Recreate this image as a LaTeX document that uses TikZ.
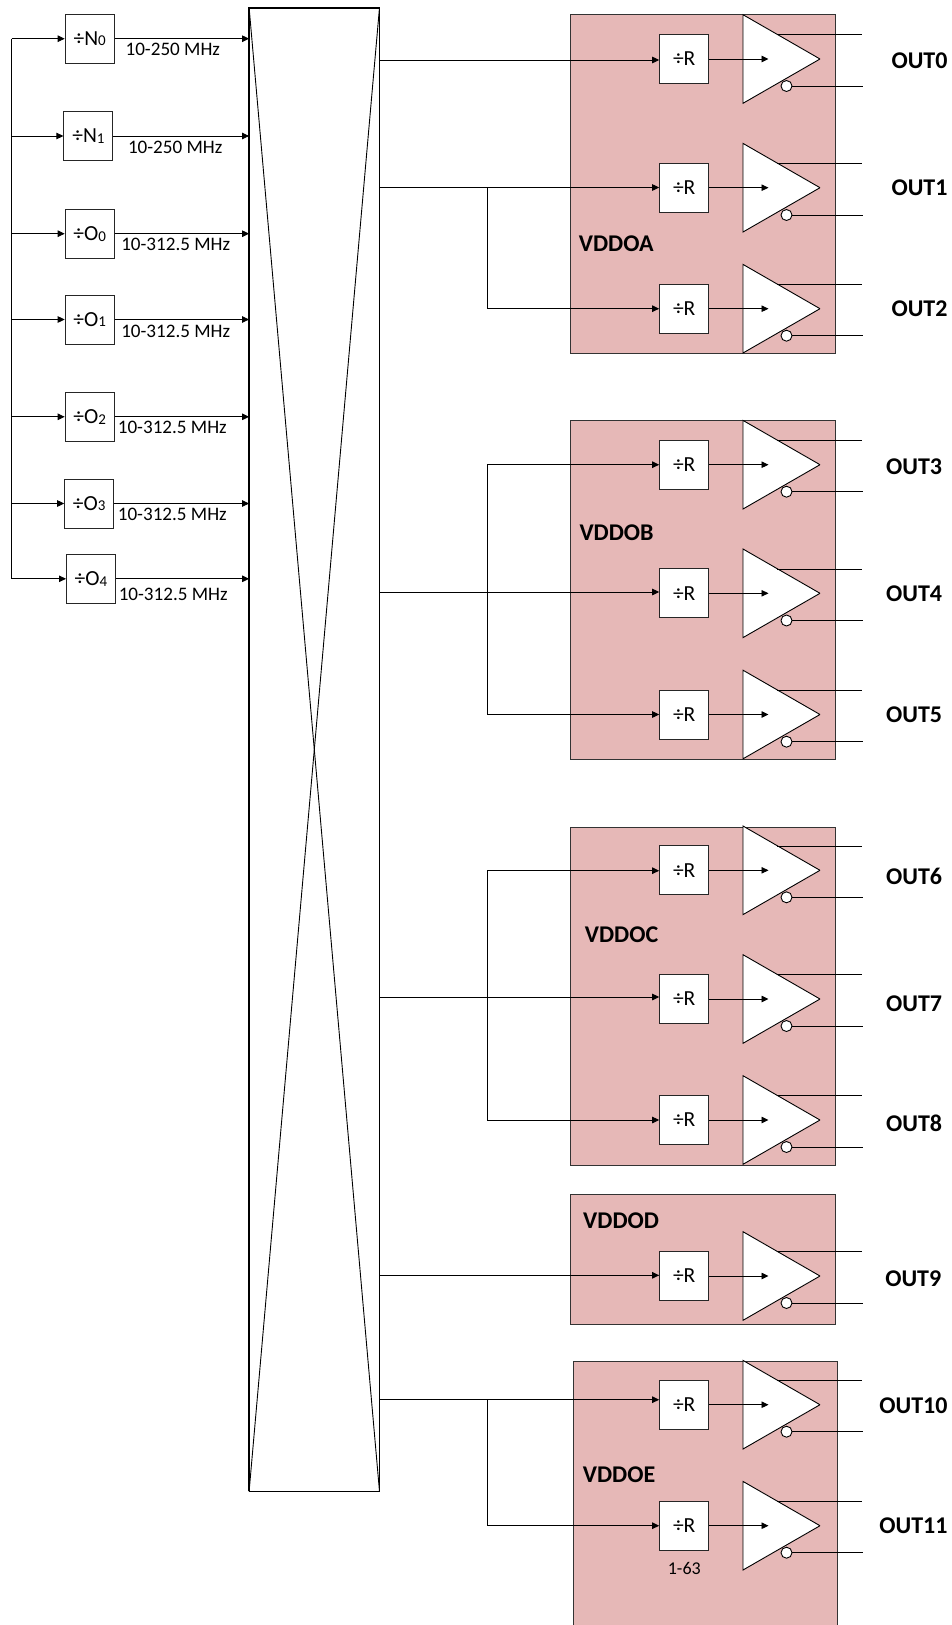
\documentclass[tikz,border=0pt]{standalone}
\usepackage{fontspec}
\setmainfont{Carlito}
\usetikzlibrary{arrows.meta,calc}
\definecolor{blockpink}{HTML}{E6B8B7}
\tikzset{
  wire/.style={draw=black,line width=0.9pt},
  arr/.style={-{Triangle[length=7pt,width=6.5pt]}},
  block/.style={draw=black!80,line width=1pt,fill=blockpink},
  tri/.style={draw=black,line width=0.9pt,fill=white,miter limit=2},
  divbox/.style={draw=black!85,line width=1pt,fill=white,minimum width=49pt,minimum height=49pt,inner sep=0pt},
  bubble/.style={circle,draw=black,line width=0.9pt,fill=white,minimum size=11pt,inner sep=0pt},
  boxtext/.style={font=\fontsize{21.5}{22}\selectfont},
  freq/.style={inner sep=0pt,font=\fontsize{19.1}{20}\selectfont},
  outlab/.style={inner sep=0pt,font=\fontsize{24}{26}\selectfont\bfseries},
  rail/.style={anchor=west,inner sep=0pt,font=\fontsize{24}{26}\selectfont\bfseries},
}
% id, cy, upper y, lower y, label cx, label cy, text
\newcommand{\outstage}[7]{%
  \node[divbox,boxtext] (R#1) at (684.2,#2) {\raisebox{-1pt}{÷R}};
  \coordinate (Ttop#1) at (743,#2-44.3);
  \coordinate (Tbot#1) at (743,#2+44.3);
  \coordinate (Ttip#1) at (820,#2);
  \draw[tri] (Ttop#1) -- (Ttip#1) -- (Tbot#1) -- cycle;
  \coordinate (Tin#1) at (768.5,#2);
  \draw[wire,arr] (R#1.east) -- (Tin#1);
  \coordinate (Ua#1) at (777,#3);
  \coordinate (Ub#1) at (862.3,#3);
  \draw[wire] (Ua#1) -- (Ub#1);
  \node[bubble] (B#1) at (786.5,#4) {};
  \coordinate (Lb#1) at (863,#4);
  \draw[wire] (B#1.east) -- (Lb#1);
  \node[outlab] (L#1) at (#5+0.8,#6) {#7};
}
% id, cx, cy, letter, sub, label cx, label cy, label
\newcommand{\inbox}[8]{%
  \node[divbox,boxtext] (D#1) at (#2,#3) {\raisebox{-1pt}{÷#4{\fontsize{15}{15}\selectfont\raisebox{-0.8pt}{#5}}}};
  \draw[wire,arr] (bus |- D#1.west) -- (D#1.west);
  \draw[wire,arr] (D#1.east) -- (mux.west |- D#1.east);
  \node[freq] (F#1) at (#6-0.5,#7) {#8};
}
\begin{document}
\begin{tikzpicture}[x=1pt,y=-1pt]
\useasboundingbox (0,0) rectangle (951,1625);
% crosspoint
\node[draw=black,line width=0.9pt,minimum width=129.5pt,minimum height=1483pt,inner sep=0pt] (mux) at (314.3,749.5) {};
\draw[wire] (mux.north west) -- (mux.south east);
\draw[wire] (mux.north east) -- (mux.south west);
\draw[black,line width=1.5pt] (mux.south west) -- (mux.north west) -- (mux.north east);
% input dividers
\coordinate (bus) at (11.5,38.7);
\coordinate (busend) at (11.5,579);
\draw[wire] (bus) -- (busend);
\inbox{N0}{89.7}{38.7}{N}{0}{173.3}{49.3}{10-250 MHz}
\inbox{N1}{88.4}{136}{N}{1}{175.7}{147}{10-250 MHz}
\inbox{O0}{89.7}{233.7}{O}{0}{176.2}{244.3}{10-312.5 MHz}
\inbox{O1}{89.7}{319.5}{O}{1}{176.2}{331}{10-312.5 MHz}
\inbox{O2}{89.7}{416.8}{O}{2}{172.8}{427.3}{10-312.5 MHz}
\inbox{O3}{89.2}{503.5}{O}{3}{172.8}{514.3}{10-312.5 MHz}
\inbox{O4}{91}{578.8}{O}{4}{173.7}{594}{10-312.5 MHz}
% supply blocks
\path[block] (570.6,14.3) rectangle (835,353.3);
\path[block] (570.6,420) rectangle (835,759);
\path[block] (570.6,827.3) rectangle (835,1165.7);
\path[block] (570.6,1194.3) rectangle (835,1324);
\path[block] (573.3,1361) rectangle (837.3,1640);
\node[rail] (va) at (578.7,243.7) {VDDOA};
\node[rail] (vb) at (579.3,532.3) {VDDOB};
\node[rail] (vc) at (584.7,934.5) {VDDOC};
\node[rail] (vd) at (583,1220.7) {VDDOD};
\node[rail] (ve) at (582.7,1475) {VDDOE};
% output stages
\outstage{0}{59}{34.7}{86}{918.7}{60.7}{OUT0}
\outstage{1}{187.7}{163.7}{215}{918.7}{187.7}{OUT1}
\outstage{2}{308.7}{284.3}{335.7}{918.7}{308.7}{OUT2}
\outstage{3}{464.7}{440.3}{491.7}{913.3}{466.5}{OUT3}
\outstage{4}{593.3}{569}{620.5}{913.3}{593.3}{OUT4}
\outstage{5}{714.5}{690}{741.7}{913.3}{714.3}{OUT5}
\outstage{6}{870.3}{846}{897.3}{913.3}{876}{OUT6}
\outstage{7}{999}{974.7}{1026}{913.3}{1003.3}{OUT7}
\outstage{8}{1120}{1095.7}{1147}{913.3}{1123.3}{OUT8}
\outstage{9}{1276}{1251.7}{1303}{912.5}{1279}{OUT9}
\outstage{10}{1404.7}{1380}{1431.7}{912.7}{1405.3}{OUT10}
\outstage{11}{1525.7}{1501.3}{1552.7}{912.7}{1525.7}{OUT11}
\node[freq,font=\fontsize{18}{20}\selectfont] (range) at (684.3,1568.7) {1-63};
% crosspoint outputs
\coordinate (sa) at (379,60);
\coordinate (sb) at (379,187.5);
\coordinate (sc) at (379,592);
\coordinate (sd) at (379,997);
\coordinate (se) at (379,1275.3);
\coordinate (sf) at (379,1399.7);
\coordinate (ja) at (487,187.5);
\coordinate (jb) at (487,464.7);
\coordinate (jc) at (487,870.7);
\coordinate (jd) at (487,1399.7);
\draw[wire,arr] (sa) -- (R0.west |- sa);
\draw[wire,arr] (sb) -- (R1.west |- sb);
\draw[wire,arr] (ja) |- (R2.west);
\draw[wire,arr] (sc) -- (R4.west |- sc);
\draw[wire,arr] (jb) -- (R3.west |- jb);
\draw[wire,arr] (jb) |- (R5.west);
\draw[wire,arr] (sd) -- (R7.west |- sd);
\draw[wire,arr] (jc) -- (R6.west |- jc);
\draw[wire,arr] (jc) |- (R8.west);
\draw[wire,arr] (se) -- (R9.west |- se);
\draw[wire,arr] (sf) -- (R10.west |- sf);
\draw[wire,arr] (jd) |- (R11.west);
\end{tikzpicture}
\end{document}
